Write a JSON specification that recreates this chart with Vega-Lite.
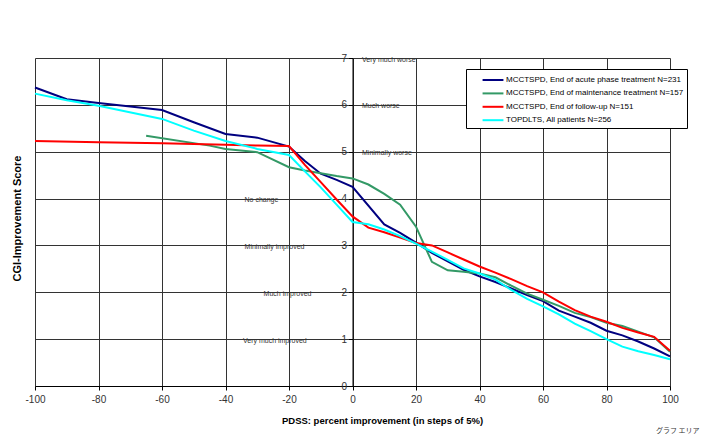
{
  "$schema": "https://vega.github.io/schema/vega-lite/v6.json",
  "width": 635,
  "height": 328,
  "autosize": {"type": "none"},
  "padding": {"left": 35, "top": 58, "right": 34, "bottom": 53},
  "background": "white",
  "config": {"font": "Liberation Sans", "view": {"stroke": null}},
  "title": {"text": "グラフ エリア", "orient": "bottom", "anchor": "end", "fontSize": 7, "font": "Noto Sans CJK JP", "fontWeight": "normal", "color": "#333", "offset": 2, "dx": 12},
  "layer": [
    {
      "data": {"values": [
        {"series": "MCCTSPD, End of acute phase treatment N=231", "x": -100, "y": 6.37},
        {"series": "MCCTSPD, End of acute phase treatment N=231", "x": -90, "y": 6.12},
        {"series": "MCCTSPD, End of acute phase treatment N=231", "x": -80, "y": 6.04},
        {"series": "MCCTSPD, End of acute phase treatment N=231", "x": -60, "y": 5.89},
        {"series": "MCCTSPD, End of acute phase treatment N=231", "x": -50, "y": 5.63},
        {"series": "MCCTSPD, End of acute phase treatment N=231", "x": -40, "y": 5.38},
        {"series": "MCCTSPD, End of acute phase treatment N=231", "x": -30, "y": 5.30},
        {"series": "MCCTSPD, End of acute phase treatment N=231", "x": -20, "y": 5.11},
        {"series": "MCCTSPD, End of acute phase treatment N=231", "x": -15, "y": 4.80},
        {"series": "MCCTSPD, End of acute phase treatment N=231", "x": -10, "y": 4.53},
        {"series": "MCCTSPD, End of acute phase treatment N=231", "x": -5, "y": 4.40},
        {"series": "MCCTSPD, End of acute phase treatment N=231", "x": 0, "y": 4.25},
        {"series": "MCCTSPD, End of acute phase treatment N=231", "x": 10, "y": 3.45},
        {"series": "MCCTSPD, End of acute phase treatment N=231", "x": 15, "y": 3.27},
        {"series": "MCCTSPD, End of acute phase treatment N=231", "x": 20, "y": 3.06},
        {"series": "MCCTSPD, End of acute phase treatment N=231", "x": 25, "y": 2.84},
        {"series": "MCCTSPD, End of acute phase treatment N=231", "x": 30, "y": 2.66},
        {"series": "MCCTSPD, End of acute phase treatment N=231", "x": 35, "y": 2.48},
        {"series": "MCCTSPD, End of acute phase treatment N=231", "x": 40, "y": 2.34},
        {"series": "MCCTSPD, End of acute phase treatment N=231", "x": 45, "y": 2.22},
        {"series": "MCCTSPD, End of acute phase treatment N=231", "x": 50, "y": 2.08},
        {"series": "MCCTSPD, End of acute phase treatment N=231", "x": 55, "y": 1.94},
        {"series": "MCCTSPD, End of acute phase treatment N=231", "x": 60, "y": 1.81},
        {"series": "MCCTSPD, End of acute phase treatment N=231", "x": 65, "y": 1.61},
        {"series": "MCCTSPD, End of acute phase treatment N=231", "x": 70, "y": 1.48},
        {"series": "MCCTSPD, End of acute phase treatment N=231", "x": 75, "y": 1.35},
        {"series": "MCCTSPD, End of acute phase treatment N=231", "x": 80, "y": 1.18},
        {"series": "MCCTSPD, End of acute phase treatment N=231", "x": 85, "y": 1.08},
        {"series": "MCCTSPD, End of acute phase treatment N=231", "x": 90, "y": 0.95},
        {"series": "MCCTSPD, End of acute phase treatment N=231", "x": 95, "y": 0.80},
        {"series": "MCCTSPD, End of acute phase treatment N=231", "x": 100, "y": 0.63},

        {"series": "MCCTSPD, End of maintenance treatment N=157", "x": -65, "y": 5.34},
        {"series": "MCCTSPD, End of maintenance treatment N=157", "x": -45, "y": 5.13},
        {"series": "MCCTSPD, End of maintenance treatment N=157", "x": -40, "y": 5.06},
        {"series": "MCCTSPD, End of maintenance treatment N=157", "x": -30, "y": 4.99},
        {"series": "MCCTSPD, End of maintenance treatment N=157", "x": -20, "y": 4.67},
        {"series": "MCCTSPD, End of maintenance treatment N=157", "x": -15, "y": 4.60},
        {"series": "MCCTSPD, End of maintenance treatment N=157", "x": -10, "y": 4.54},
        {"series": "MCCTSPD, End of maintenance treatment N=157", "x": -5, "y": 4.48},
        {"series": "MCCTSPD, End of maintenance treatment N=157", "x": 0, "y": 4.43},
        {"series": "MCCTSPD, End of maintenance treatment N=157", "x": 5, "y": 4.30},
        {"series": "MCCTSPD, End of maintenance treatment N=157", "x": 10, "y": 4.10},
        {"series": "MCCTSPD, End of maintenance treatment N=157", "x": 15, "y": 3.87},
        {"series": "MCCTSPD, End of maintenance treatment N=157", "x": 20, "y": 3.40},
        {"series": "MCCTSPD, End of maintenance treatment N=157", "x": 25, "y": 2.65},
        {"series": "MCCTSPD, End of maintenance treatment N=157", "x": 30, "y": 2.47},
        {"series": "MCCTSPD, End of maintenance treatment N=157", "x": 35, "y": 2.44},
        {"series": "MCCTSPD, End of maintenance treatment N=157", "x": 40, "y": 2.40},
        {"series": "MCCTSPD, End of maintenance treatment N=157", "x": 45, "y": 2.32},
        {"series": "MCCTSPD, End of maintenance treatment N=157", "x": 50, "y": 2.14},
        {"series": "MCCTSPD, End of maintenance treatment N=157", "x": 55, "y": 1.97},
        {"series": "MCCTSPD, End of maintenance treatment N=157", "x": 60, "y": 1.84},
        {"series": "MCCTSPD, End of maintenance treatment N=157", "x": 65, "y": 1.71},
        {"series": "MCCTSPD, End of maintenance treatment N=157", "x": 70, "y": 1.56},
        {"series": "MCCTSPD, End of maintenance treatment N=157", "x": 75, "y": 1.47},
        {"series": "MCCTSPD, End of maintenance treatment N=157", "x": 80, "y": 1.35},
        {"series": "MCCTSPD, End of maintenance treatment N=157", "x": 85, "y": 1.28},
        {"series": "MCCTSPD, End of maintenance treatment N=157", "x": 90, "y": 1.16},
        {"series": "MCCTSPD, End of maintenance treatment N=157", "x": 95, "y": 1.04},
        {"series": "MCCTSPD, End of maintenance treatment N=157", "x": 100, "y": 0.73},

        {"series": "MCCTSPD, End of follow-up N=151", "x": -100, "y": 5.23},
        {"series": "MCCTSPD, End of follow-up N=151", "x": -80, "y": 5.20},
        {"series": "MCCTSPD, End of follow-up N=151", "x": -60, "y": 5.18},
        {"series": "MCCTSPD, End of follow-up N=151", "x": -40, "y": 5.15},
        {"series": "MCCTSPD, End of follow-up N=151", "x": -30, "y": 5.13},
        {"series": "MCCTSPD, End of follow-up N=151", "x": -20, "y": 5.12},
        {"series": "MCCTSPD, End of follow-up N=151", "x": -15, "y": 4.72},
        {"series": "MCCTSPD, End of follow-up N=151", "x": -10, "y": 4.35},
        {"series": "MCCTSPD, End of follow-up N=151", "x": -5, "y": 3.98},
        {"series": "MCCTSPD, End of follow-up N=151", "x": 0, "y": 3.62},
        {"series": "MCCTSPD, End of follow-up N=151", "x": 5, "y": 3.38},
        {"series": "MCCTSPD, End of follow-up N=151", "x": 10, "y": 3.28},
        {"series": "MCCTSPD, End of follow-up N=151", "x": 15, "y": 3.17},
        {"series": "MCCTSPD, End of follow-up N=151", "x": 20, "y": 3.05},
        {"series": "MCCTSPD, End of follow-up N=151", "x": 25, "y": 3.00},
        {"series": "MCCTSPD, End of follow-up N=151", "x": 30, "y": 2.85},
        {"series": "MCCTSPD, End of follow-up N=151", "x": 35, "y": 2.70},
        {"series": "MCCTSPD, End of follow-up N=151", "x": 40, "y": 2.55},
        {"series": "MCCTSPD, End of follow-up N=151", "x": 45, "y": 2.42},
        {"series": "MCCTSPD, End of follow-up N=151", "x": 50, "y": 2.28},
        {"series": "MCCTSPD, End of follow-up N=151", "x": 55, "y": 2.13},
        {"series": "MCCTSPD, End of follow-up N=151", "x": 60, "y": 2.00},
        {"series": "MCCTSPD, End of follow-up N=151", "x": 65, "y": 1.80},
        {"series": "MCCTSPD, End of follow-up N=151", "x": 70, "y": 1.62},
        {"series": "MCCTSPD, End of follow-up N=151", "x": 75, "y": 1.48},
        {"series": "MCCTSPD, End of follow-up N=151", "x": 80, "y": 1.37},
        {"series": "MCCTSPD, End of follow-up N=151", "x": 85, "y": 1.24},
        {"series": "MCCTSPD, End of follow-up N=151", "x": 90, "y": 1.14},
        {"series": "MCCTSPD, End of follow-up N=151", "x": 95, "y": 1.05},
        {"series": "MCCTSPD, End of follow-up N=151", "x": 100, "y": 0.75},

        {"series": "TOPDLTS, All patients N=256", "x": -100, "y": 6.24},
        {"series": "TOPDLTS, All patients N=256", "x": -90, "y": 6.10},
        {"series": "TOPDLTS, All patients N=256", "x": -80, "y": 5.98},
        {"series": "TOPDLTS, All patients N=256", "x": -60, "y": 5.70},
        {"series": "TOPDLTS, All patients N=256", "x": -50, "y": 5.45},
        {"series": "TOPDLTS, All patients N=256", "x": -40, "y": 5.23},
        {"series": "TOPDLTS, All patients N=256", "x": -30, "y": 5.06},
        {"series": "TOPDLTS, All patients N=256", "x": -20, "y": 4.93},
        {"series": "TOPDLTS, All patients N=256", "x": -15, "y": 4.58},
        {"series": "TOPDLTS, All patients N=256", "x": -10, "y": 4.24},
        {"series": "TOPDLTS, All patients N=256", "x": -5, "y": 3.87},
        {"series": "TOPDLTS, All patients N=256", "x": 0, "y": 3.50},
        {"series": "TOPDLTS, All patients N=256", "x": 5, "y": 3.45},
        {"series": "TOPDLTS, All patients N=256", "x": 10, "y": 3.34},
        {"series": "TOPDLTS, All patients N=256", "x": 15, "y": 3.20},
        {"series": "TOPDLTS, All patients N=256", "x": 20, "y": 3.04},
        {"series": "TOPDLTS, All patients N=256", "x": 25, "y": 2.87},
        {"series": "TOPDLTS, All patients N=256", "x": 30, "y": 2.69},
        {"series": "TOPDLTS, All patients N=256", "x": 35, "y": 2.51},
        {"series": "TOPDLTS, All patients N=256", "x": 40, "y": 2.40},
        {"series": "TOPDLTS, All patients N=256", "x": 45, "y": 2.27},
        {"series": "TOPDLTS, All patients N=256", "x": 50, "y": 2.05},
        {"series": "TOPDLTS, All patients N=256", "x": 55, "y": 1.86},
        {"series": "TOPDLTS, All patients N=256", "x": 60, "y": 1.70},
        {"series": "TOPDLTS, All patients N=256", "x": 65, "y": 1.53},
        {"series": "TOPDLTS, All patients N=256", "x": 70, "y": 1.33},
        {"series": "TOPDLTS, All patients N=256", "x": 75, "y": 1.17},
        {"series": "TOPDLTS, All patients N=256", "x": 80, "y": 1.00},
        {"series": "TOPDLTS, All patients N=256", "x": 85, "y": 0.84},
        {"series": "TOPDLTS, All patients N=256", "x": 90, "y": 0.74},
        {"series": "TOPDLTS, All patients N=256", "x": 95, "y": 0.66},
        {"series": "TOPDLTS, All patients N=256", "x": 100, "y": 0.57}
      ]},
      "mark": {"type": "line", "strokeWidth": 2},
      "encoding": {
        "x": {
          "field": "x", "type": "quantitative",
          "scale": {"domain": [-100, 100], "nice": false, "zero": false},
          "axis": {
            "title": "PDSS: percent improvement (in steps of 5%)",
            "values": [-100, -80, -60, -40, -20, 0, 20, 40, 60, 80, 100],
            "labelExpr": "'' + datum.value",
            "grid": true, "gridColor": "#333", "gridOpacity": 1, "gridWidth": 1,
            "domainColor": "#000", "tickColor": "#000", "tickSize": 4,
            "labelFontSize": 10, "labelColor": "#333", "labelPadding": 4, "labelFlush": false,
            "titleFontSize": 9.5, "titleFontWeight": "bold", "titleColor": "#000", "titlePadding": 11,
            "titleX": 347, "titleAlign": "center"
          }
        },
        "y": {
          "field": "y", "type": "quantitative",
          "scale": {"domain": [0, 7], "nice": false},
          "axis": {
            "title": "CGI-Improvement Score",
            "values": [0, 1, 2, 3, 4, 5, 6, 7],
            "offset": -317.5,
            "grid": true, "gridColor": "#333", "gridOpacity": 1, "gridWidth": 1,
            "domainColor": "#000", "tickColor": "#000", "tickSize": 4,
            "labelFontSize": 10, "labelColor": "#333", "labelPadding": 2, "labelFlush": false,
            "titleFontSize": 11, "titleFontWeight": "bold", "titleColor": "#000",
            "titleAngle": 270, "titleAlign": "center", "titleBaseline": "middle",
            "titleX": -335, "titleY": 160
          }
        },
        "color": {
          "field": "series", "type": "nominal",
          "scale": {
            "domain": ["MCCTSPD, End of acute phase treatment N=231", "MCCTSPD, End of maintenance treatment N=157", "MCCTSPD, End of follow-up N=151", "TOPDLTS, All patients N=256"],
            "range": ["#000080", "#339966", "#ff0000", "#00ffff"]
          },
          "legend": {
            "orient": "none", "legendX": 431, "legendY": 11, "title": null,
            "strokeColor": "#000", "fillColor": "#fff", "padding": 3,
            "symbolType": "M-1.6,0H1.6", "symbolSize": 170, "symbolStrokeWidth": 2,
            "symbolOffset": 16, "labelOffset": 5,
            "labelFontSize": 8, "labelColor": "#000", "labelLimit": 400, "rowPadding": 1.4
          }
        }
      }
    },
    {
      "data": {"values": [
        {"label": "Very much worse", "x": 3, "y": 7},
        {"label": "Much worse", "x": 3, "y": 6},
        {"label": "Minimally worse", "x": 3, "y": 5},
        {"label": "No change", "x": -34, "y": 4},
        {"label": "Minimally improved", "x": -34, "y": 3},
        {"label": "Much improved", "x": -28, "y": 2},
        {"label": "Very much improved", "x": -34.5, "y": 1}
      ]},
      "mark": {"type": "text", "align": "left", "baseline": "middle", "fontSize": 7, "fill": "#333", "dy": 1.5},
      "encoding": {
        "x": {"field": "x", "type": "quantitative"},
        "y": {"field": "y", "type": "quantitative"},
        "text": {"field": "label"}
      }
    }
  ]
}
